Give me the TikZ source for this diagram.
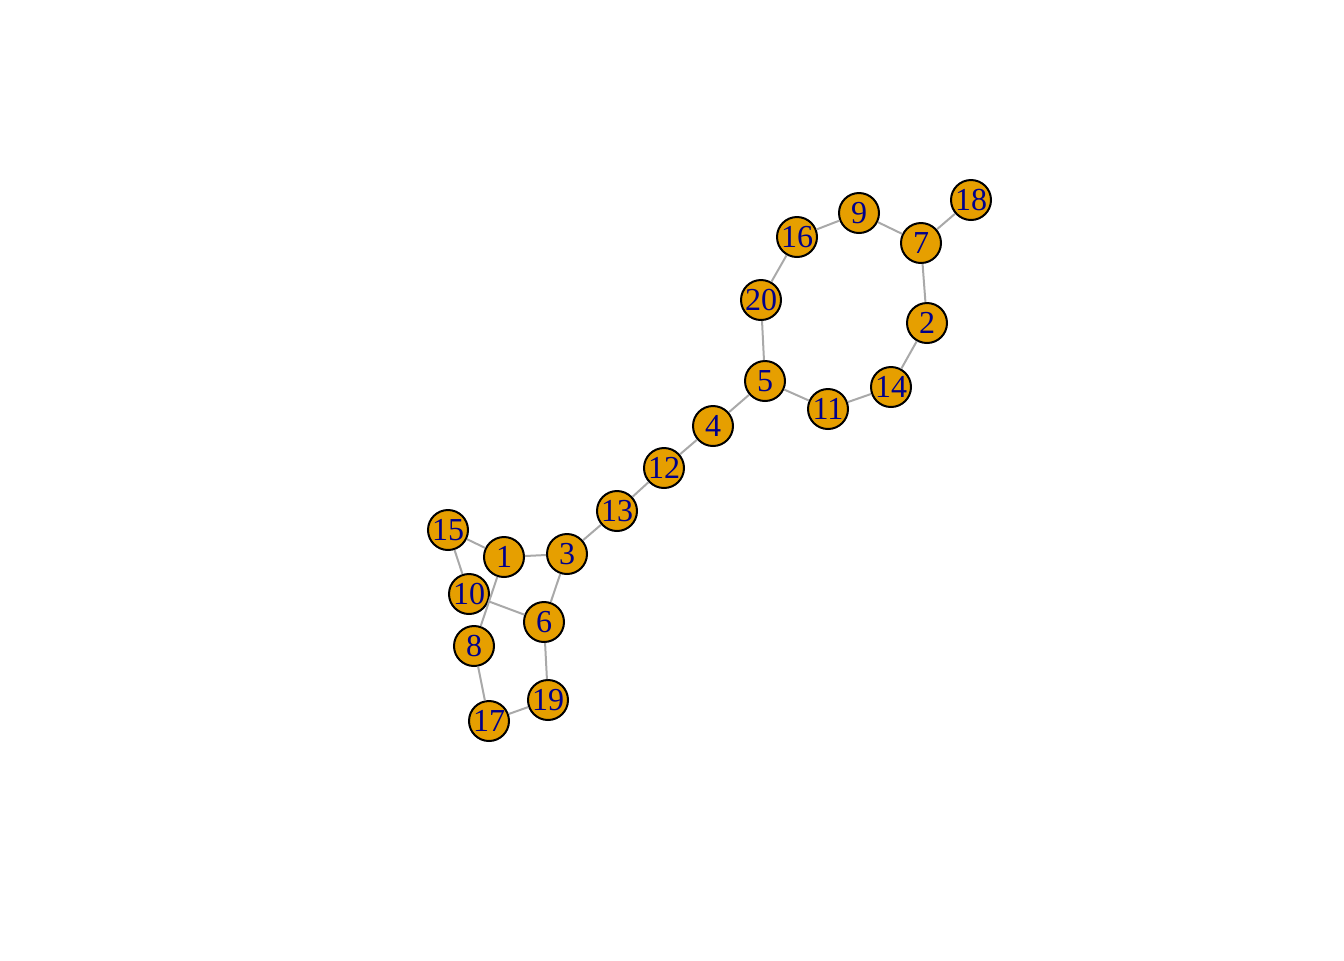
\documentclass[tikz,border=0pt]{standalone}
\usepackage{fontspec}
\setmainfont{Liberation Serif}
\definecolor{vfill}{HTML}{E69F00}
\definecolor{vlab}{HTML}{00008B}
\definecolor{egray}{HTML}{A9A9A9}
\begin{document}
\begin{tikzpicture}[x=0.375pt,y=-0.375pt,
  vert/.style={circle,draw=black,line width=0.75pt,fill=vfill,minimum size=15pt,inner sep=0pt,text=vlab,font=\fontsize{12}{12}\selectfont},
  edge/.style={draw=egray,line width=0.75pt}]
\useasboundingbox (0,0) rectangle (1344,960);
\node[vert] (n18) at (971,200) {18};
\node[vert] (n9) at (859,213) {9};
\node[vert] (n16) at (797,237) {16};
\node[vert] (n7) at (921,243) {7};
\node[vert] (n20) at (761,300) {20};
\node[vert] (n2) at (927,323) {2};
\node[vert] (n5) at (765,381) {5};
\node[vert] (n14) at (891,387) {14};
\node[vert] (n11) at (828,409) {11};
\node[vert] (n4) at (713,426) {4};
\node[vert] (n12) at (664,468) {12};
\node[vert] (n13) at (617,511) {13};
\node[vert] (n15) at (448,530) {15};
\node[vert] (n1) at (504,557) {1};
\node[vert] (n3) at (567,554) {3};
\node[vert] (n10) at (469,594) {10};
\node[vert] (n6) at (544,622) {6};
\node[vert] (n8) at (474,646) {8};
\node[vert] (n19) at (548,700) {19};
\node[vert] (n17) at (489,721) {17};
\begin{scope}[on background layer/.try]
\end{scope}
\begin{pgfonlayer}{main}\end{pgfonlayer}
\foreach \a/\b in {n18/n7,n9/n7,n16/n9,n20/n16,n7/n2,n2/n14,n14/n11,n11/n5,n5/n20,n5/n4,n4/n12,n12/n13,n13/n3,n3/n1,n1/n15,n15/n10,n10/n6,n6/n3,n1/n8,n8/n17,n17/n19,n19/n6}
  \draw[edge] (\a) -- (\b);
\end{tikzpicture}
\end{document}
